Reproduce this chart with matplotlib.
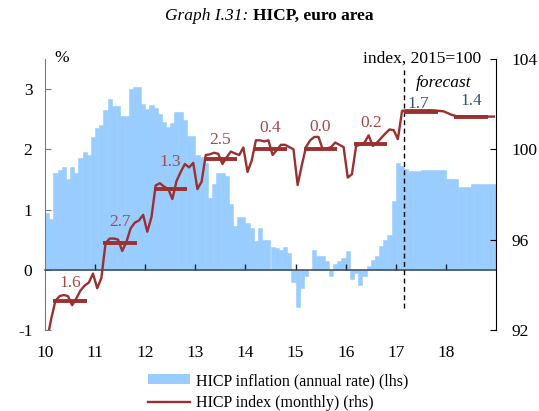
import matplotlib
matplotlib.use('Agg')
import matplotlib.pyplot as plt
from matplotlib.patches import Patch
from matplotlib.lines import Line2D

plt.rcParams['font.family'] = ['Liberation Serif', 'DejaVu Serif']
plt.rcParams['axes.unicode_minus'] = False

# ---------------- data ----------------
years = [2010, 2011, 2012, 2013, 2014, 2015, 2016, 2017, 2018]
year_labels = ['10', '11', '12', '13', '14', '15', '16', '17', '18']

# HICP inflation, annual rate (%), monthly Jan 2010 - Dec 2018 (forecast from Mar 2017)
inflation = [
    0.95, 0.85, 1.60, 1.65, 1.70, 1.50, 1.70, 1.60, 1.85, 1.95, 1.90, 2.20,
    2.35, 2.40, 2.65, 2.83, 2.72, 2.72, 2.55, 2.55, 3.00, 3.03, 3.03, 2.75,
    2.67, 2.73, 2.68, 2.58, 2.46, 2.37, 2.43, 2.62, 2.62, 2.48, 2.22, 2.22,
    1.90, 1.88, 1.77, 1.20, 1.43, 1.60, 1.60, 1.55, 1.10, 0.73, 0.87, 0.87,
    0.78, 0.70, 0.47, 0.70, 0.50, 0.50, 0.37, 0.36, 0.33, 0.38, 0.28, -0.20,
    -0.62, -0.30, -0.10, 0.00, 0.33, 0.23, 0.23, 0.14, -0.10, 0.10, 0.15, 0.20,
    0.32, -0.16, -0.05, -0.26, -0.10, 0.07, 0.17, 0.23, 0.40, 0.50, 0.58, 1.14,
    1.77, 1.72, 1.68, 1.64, 1.64, 1.64, 1.65, 1.65, 1.65, 1.65, 1.65, 1.65,
    1.51, 1.51, 1.51, 1.37, 1.37, 1.37, 1.42, 1.42, 1.42, 1.42, 1.42, 1.42,
]

# HICP index (2015=100), monthly
index_monthly = [
    91.60, 92.50, 93.30, 93.50, 93.55, 93.50, 93.10, 93.40, 93.75, 93.97, 94.10, 94.50,
    93.85, 94.30, 95.85, 96.05, 96.05, 96.00, 95.50, 95.90, 96.50, 96.75, 96.85, 97.10,
    96.35, 97.00, 98.40, 98.50, 98.35, 98.25, 97.80, 98.60, 99.00, 99.35, 99.20, 99.40,
    98.24, 98.57, 99.75, 99.78, 99.85, 99.80, 99.35, 99.65, 99.90, 99.82, 99.75, 100.08,
    99.00, 99.50, 100.40, 100.40, 100.35, 100.40, 99.75, 99.97, 100.20, 100.20, 100.10, 100.00,
    98.42, 99.30, 100.10, 100.40, 100.55, 100.55, 100.00, 100.03, 100.10, 100.30, 100.20, 100.10,
    98.75, 98.90, 100.15, 100.20, 100.30, 100.62, 100.15, 100.30, 100.50, 100.70, 100.88, 100.85,
    100.45, 101.70, 101.73, 101.73, 101.73, 101.73, 101.73, 101.73, 101.73, 101.72, 101.70, 101.68,
    101.60, 101.52, 101.47, 101.46, 101.46, 101.46, 101.46, 101.46, 101.46, 101.45, 101.45, 101.45,
]

# annual average index level and annual growth labels
annual_avg = [93.30, 95.87, 98.23, 99.57, 100.00, 100.00, 100.24, 101.67, 101.45]
annual_labels = ['1.6', '2.7', '1.3', '2.5', '0.4', '0.0', '0.2', '1.7', '1.4']
forecast_start = 2017 + 2 / 12

# ---------------- style ----------------
BLUE = '#99CCFF'
RED = '#9B3030'
LAB_RED = '#A84848'
LAB_BLUE = '#34507E'
FS = 12.5

W, H = 539, 411
fig = plt.figure(figsize=(W / 100, H / 100), dpi=100)
ax = fig.add_axes([45 / W, 1 - 330 / H, 451 / W, 271 / H])

n = len(inflation)
x_start = [2010 + i / 12 for i in range(n)]
x_mid = [2010 + (i + 0.5) / 12 for i in range(n)]

ax.bar(x_start, inflation, width=1 / 12, align='edge', color=BLUE,
       edgecolor=BLUE, linewidth=0.4, zorder=1)
ax.set_xlim(2010, 2019)
ax.set_ylim(-1, 3.5)
ax.patch.set_visible(False)
ax.spines['top'].set_visible(False)
ax.spines['right'].set_visible(False)
ax.spines['bottom'].set_position(('data', 0))
ax.spines['bottom'].set_color('#3d4652')
ax.spines['bottom'].set_linewidth(1.1)
ax.spines['bottom'].set_zorder(4)
ax.spines['left'].set_color('#7a7a7a')
ax.set_xticks(years[1:])
ax.tick_params(axis='x', direction='in', length=4, width=1, color='#222222',
               labelbottom=False)
ax.set_yticks([-1, 0, 1, 2, 3])
ax.tick_params(axis='y', direction='in', length=4, color='#7a7a7a',
               labelsize=FS, pad=9)

sec = ax.secondary_xaxis(0.0)
sec.set_xticks(years)
sec.set_xticklabels(year_labels)
sec.tick_params(length=0, pad=10.5, labelsize=FS)
sec.spines['bottom'].set_visible(False)

ax2 = ax.twinx()
ax2.set_ylim(92, 104)
ax2.plot(x_mid, index_monthly, color=RED, lw=1.7, zorder=3)
ax2.hlines(annual_avg, [y + 2 / 12 for y in years], [y + 10 / 12 for y in years],
           color=RED, lw=2.8, zorder=3)
for s in ['top', 'left', 'bottom']:
    ax2.spines[s].set_visible(False)
ax2.spines['right'].set_color('black')
ax2.set_yticks([92, 96, 100, 104])
ax2.tick_params(axis='y', direction='in', length=4, color='black',
                labelsize=FS, pad=11)

label_dx = [0, 0, 0, 0, 0, 0, 0, -3, 0]
label_dy = [18, 21, 27, 19, 21, 22, 21, 8, 16]
for i, (yr, avg, lab) in enumerate(zip(years, annual_avg, annual_labels)):
    col = LAB_BLUE if yr >= 2017 else LAB_RED
    ax2.annotate(lab, (yr + 0.5, avg), xytext=(label_dx[i], label_dy[i]),
                 textcoords='offset pixels', ha='center', va='center',
                 color=col, fontsize=FS)

ax.axvline(forecast_start, ymin=0.081, ymax=0.959, color='black', lw=1,
           ls=(0, (3.5, 2.5)), zorder=5)

ax.text(0.0377, 1.004, '%', transform=ax.transAxes, ha='center', va='center', fontsize=FS)
ax.text(0.9667, 1.002, 'index, 2015=100', transform=ax.transAxes, ha='right',
        va='center', fontsize=FS)
ax.text(0.8847, 0.9096, 'forecast', transform=ax.transAxes, ha='center',
        va='center', fontsize=FS, style='italic')

# title
fig.canvas.draw()
r = fig.canvas.get_renderer()
ty = 1 - 16 / H
t1 = fig.text(0, ty, 'Graph I.31: ', style='italic', fontsize=FS, va='center')
t2 = fig.text(0, ty, 'HICP, euro area', weight='bold', fontsize=FS, va='center')
w1 = t1.get_window_extent(r).width
w2 = t2.get_window_extent(r).width
x0 = 269.5 - (w1 + w2) / 2
t1.set_x(x0 / W)
t2.set_x((x0 + w1) / W)

handles = [Patch(facecolor=BLUE, edgecolor='none', label='HICP inflation (annual rate) (lhs)'),
           Line2D([], [], color=RED, lw=1.7, label='HICP index (monthly) (rhs)')]
fig.legend(handles=handles, loc='upper left', bbox_to_anchor=(148 / W, 1 - 373 / H),
           frameon=False, fontsize=11.5, handlelength=2.6, handletextpad=0.4,
           labelspacing=0.4, borderpad=0, borderaxespad=0, handleheight=0.6)

fig.savefig('out.png', dpi=100)
